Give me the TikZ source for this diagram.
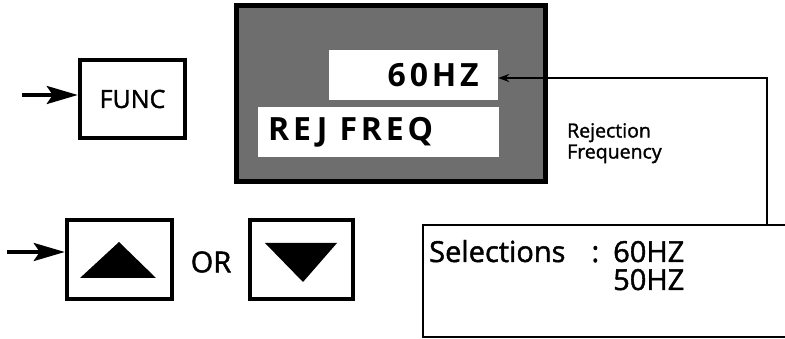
\documentclass[tikz,border=0pt]{standalone}
\usepackage{fontspec}
\setmainfont{Open Sans}
\usetikzlibrary{arrows.meta}
\tikzset{
  keybox/.style={draw, line width=4.5pt, fill=white, inner sep=0pt},
  inrbox/.style={fill=white, draw=none, inner sep=0pt},
  arrtip/.tip={Stealth[length=31pt,width=18pt,inset=6pt]},
  arr/.style={line width=3.5pt, -arrtip},
  conn/.style={line width=2pt},
  med/.style={font=\fontsize{#1}{#1}\selectfont\addfontfeatures{FakeBold=1.5}},
  lcd/.style={font=\fontsize{32}{34}\selectfont\bfseries\addfontfeatures{LetterSpace=12}},
}
\begin{document}
\begin{tikzpicture}[x=1pt,y=-1pt]
\useasboundingbox (0,0) rectangle (785,339);
% FUNC key
\node[keybox, minimum width=105pt, minimum height=78pt, med=25] (func) at (132.5,99) {FUNC};
\coordinate (fa) at (22,95);
\draw[arr] (fa) -- (fa -| func.west);
% display
\node[draw, line width=5pt, fill=black!57, minimum width=309pt, minimum height=176pt, inner sep=0pt] (disp) at (390.5,94) {};
\node[inrbox, minimum width=169pt, minimum height=50pt] (hz) at (413.5,75) {};
\node[inrbox, minimum width=241pt, minimum height=50pt] (rej) at (378.5,132) {};
\node[lcd, anchor=east, inner sep=0pt] (hzt) at (479,75) {60HZ};
\node[lcd, anchor=west, inner sep=0pt] (rejt) at (268,132) {REJ FREQ};
% label
\node[anchor=north west, align=left, inner sep=0pt, font=\fontsize{19.5}{21}\selectfont\addfontfeatures{FakeBold=1.5}] (lbl) at (567,123) {Rejection\\Frequency};
% selections box (open on the right)
\node[minimum width=362pt, minimum height=112pt, anchor=north west, inner sep=0pt] (sel) at (423,225) {};
\draw[line width=2pt] (sel.north east) -- (sel.north west) -- (sel.south west) -- (sel.south east);
\node[anchor=base west, inner sep=0pt, med=29] (selt) at (429,262) {Selections\hspace{26pt}:};
\node[anchor=base west, inner sep=0pt, med=29] (s60) at (613,262) {60HZ};
\node[anchor=base west, inner sep=0pt, med=29] (s50) at (613,290) {50HZ};
% connector
\coordinate (c1) at (767,78);
\draw[conn, -{Stealth[length=11pt,width=8pt]}] (sel.north -| c1) -- (c1) -- (hz.east |- c1);
% up / down keys
\node[keybox, minimum width=105pt, minimum height=79pt] (up) at (119.5,259.5) {};
\fill (119,242) -- (156,278) -- (80,278) -- cycle;
\coordinate (ua) at (7,252);
\draw[arr] (ua) -- (ua -| up.west);
\node[med=29, inner sep=0pt] (or) at (211,262) {OR};
\node[keybox, minimum width=103pt, minimum height=79pt] (down) at (301.5,259.5) {};
\fill (265,243) -- (337,243) -- (303,282) -- cycle;
\end{tikzpicture}
\end{document}
